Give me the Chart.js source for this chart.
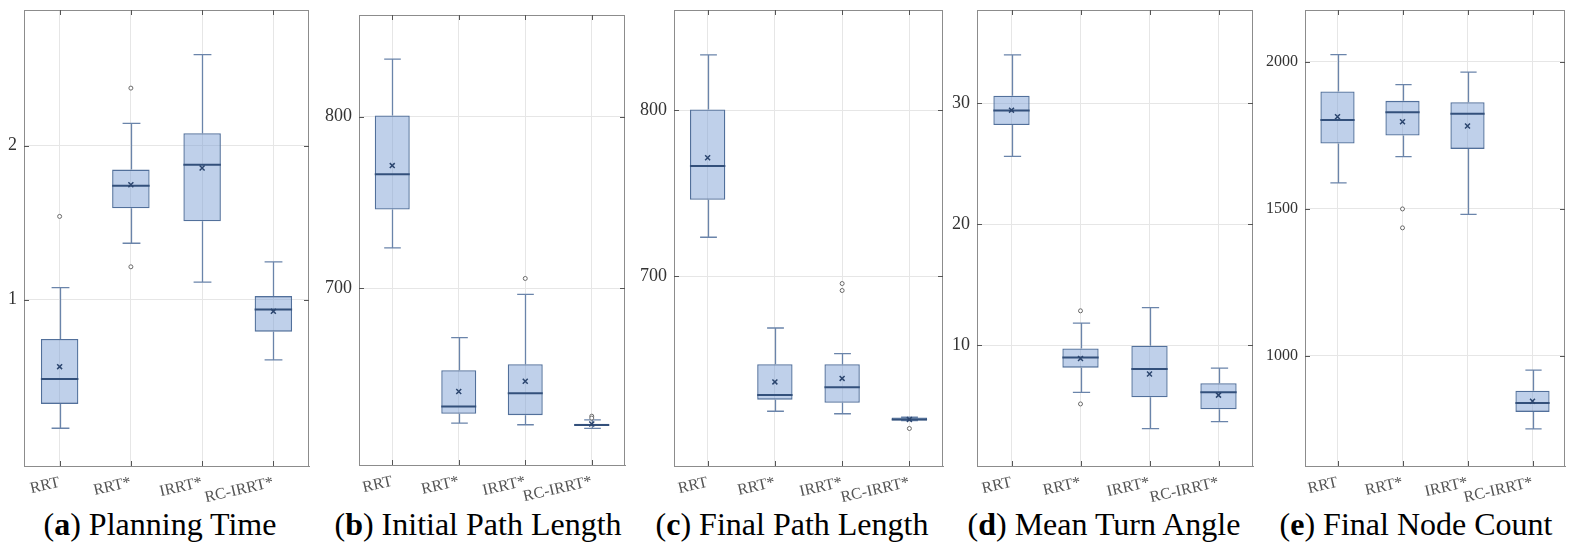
<!DOCTYPE html>
<html><head><meta charset="utf-8">
<script src="https://cdn.jsdelivr.net/npm/chart.js@4.4.0/dist/chart.umd.min.js"></script>
<style>
body{margin:0;background:#fff;width:1574px;height:553px;position:relative;overflow:hidden}
.cap{position:absolute;top:508px;width:340px;text-align:center;font-family:'Liberation Serif',serif;font-size:32px;line-height:32px;color:#000;white-space:nowrap}
</style></head><body>
<script>
const categories = ['RRT','RRT*','IRRT*','RC-IRRT*'];

// (a) Planning Time
const timeLow  = [0.165, 1.366, 1.114, 0.609];
const timeQ1   = [0.323, 1.593, 1.508, 0.792];
const timeMed  = [0.485, 1.739, 1.876, 0.936];
const timeQ3   = [0.744, 1.844, 2.080, 1.023];
const timeHigh = [1.078, 2.144, 2.590, 1.245];
const timeMean = [0.565, 1.746, 1.854, 0.924];
const timeOut  = [[1.54], [2.373, 1.213], [], []];
const timeTicks = [1, 2];

// (b) Initial Path Length
const initLow  = [723.5, 621.2, 620.2, 618.1];
const initQ1   = [745.8, 626.6, 625.8, 619.4];
const initMed  = [766.4, 630.9, 638.6, 620.0];
const initQ3   = [800.8, 652.0, 655.5, 620.8];
const initHigh = [833.6, 671.1, 696.3, 623.1];
const initMean = [771.5, 639.6, 645.6, 620.6];
const initOut  = [[], [], [705.6], [625.2, 624.1]];
const initTicks = [700, 800];

// (c) Final Path Length
const finLow  = [723.4, 618.5, 617.0, 612.8];
const finQ1   = [746.0, 625.5, 623.6, 613.0];
const finMed  = [766.4, 628.3, 633.0, 613.6];
const finQ3   = [800.4, 646.8, 646.8, 614.7];
const finHigh = [833.4, 668.7, 653.2, 614.9];
const finMean = [771.3, 636.2, 638.3, 613.6];
const finOut  = [[], [], [695.5, 691.3], [608.1]];
const finTicks = [700, 800];

// (d) Mean Turn Angle
const angLow  = [25.6, 6.09, 3.09, 3.67];
const angQ1   = [28.19, 8.13, 5.69, 4.69];
const angMed  = [29.39, 8.98, 8.02, 6.09];
const angQ3   = [30.61, 9.71, 9.94, 6.85];
const angHigh = [33.99, 11.81, 13.09, 8.10];
const angMean = [29.42, 8.89, 7.61, 5.86];
const angOut  = [[], [12.83, 5.13], [], []];
const angTicks = [10, 20, 30];

// (e) Final Node Count
const nodeLow  = [1588, 1677, 1481, 751];
const nodeQ1   = [1721.5, 1749, 1703.5, 809];
const nodeMed  = [1802, 1828, 1823.5, 839];
const nodeQ3   = [1899, 1867, 1862, 881];
const nodeHigh = [2024, 1922, 1965, 951];
const nodeMean = [1813, 1796, 1781.5, 845];
const nodeOut  = [[], [1499.4, 1435], [], []];
const nodeTicks = [1000, 1500, 2000];

const FILL = 'rgba(120,155,210,0.47)';
const EDGE = '#52709b';
const WHISK = '#6a84aa';
const MED = '#33507b';
const MEAN = '#2c466f';
const GRID = '#e6e6e6';
const FRAME = '#8c8c8c';
const TICKC = '#555';
const SERIF = "'Liberation Serif', serif";

const panels = [
  {low:timeLow, q1:timeQ1, med:timeMed, q3:timeQ3, high:timeHigh, mean:timeMean, out:timeOut, ticks:timeTicks, min:-0.08, max:2.88, frame:[24,309,10,466], ysize:18},
  {low:initLow, q1:initQ1, med:initMed, q3:initQ3, high:initHigh, mean:initMean, out:initOut, ticks:initTicks, min:596.7, max:859.4, frame:[359,625,15,465], ysize:18},
  {low:finLow, q1:finQ1, med:finMed, q3:finQ3, high:finHigh, mean:finMean, out:finOut, ticks:finTicks, min:585.5, max:860.4, frame:[674,943,10,466], ysize:18},
  {low:angLow, q1:angQ1, med:angMed, q3:angQ3, high:angHigh, mean:angMean, out:angOut, ticks:angTicks, min:0, max:37.7, frame:[977,1253,10,466], ysize:18},
  {low:nodeLow, q1:nodeQ1, med:nodeMed, q3:nodeQ3, high:nodeHigh, mean:nodeMean, out:nodeOut, ticks:nodeTicks, min:625, max:2176, frame:[1305,1565,10,466], ysize:16}
];

const BOXW = 0.526, CAPW = 0.25;

function makePlugin(p){
  return {
    id:'boxextras',
    beforeDatasetsDraw(chart){
      const ctx = chart.ctx, x = chart.scales.x, y = chart.scales.y;
      const cw = x.getPixelForValue(1) - x.getPixelForValue(0);
      ctx.save();
      ctx.strokeStyle = WHISK; ctx.lineWidth = 1.3;
      categories.forEach((c,i)=>{
        const cx = Math.round(x.getPixelForValue(i)) + 0.5;
        const yl = y.getPixelForValue(p.low[i]), y1 = y.getPixelForValue(p.q1[i]);
        const y3 = y.getPixelForValue(p.q3[i]), yh = y.getPixelForValue(p.high[i]);
        ctx.beginPath();
        ctx.moveTo(cx, yl); ctx.lineTo(cx, y1);
        ctx.moveTo(cx, y3); ctx.lineTo(cx, yh);
        ctx.moveTo(cx - cw*CAPW/2, yl); ctx.lineTo(cx + cw*CAPW/2, yl);
        ctx.moveTo(cx - cw*CAPW/2, yh); ctx.lineTo(cx + cw*CAPW/2, yh);
        ctx.stroke();
      });
      ctx.restore();
    },
    afterDatasetDraw(chart, args){
      if(args.index !== 0) return;
      const ctx = chart.ctx, x = chart.scales.x, y = chart.scales.y;
      const cw = x.getPixelForValue(1) - x.getPixelForValue(0);
      ctx.save();
      ctx.strokeStyle = MED; ctx.lineWidth = 2;
      categories.forEach((c,i)=>{
        const cx = x.getPixelForValue(i);
        const ym = y.getPixelForValue(p.med[i]);
        ctx.beginPath();
        ctx.moveTo(cx - cw*BOXW/2, ym); ctx.lineTo(cx + cw*BOXW/2, ym);
        ctx.stroke();
      });
      ctx.restore();
    },
    afterDraw(chart){
      const ctx = chart.ctx, a = chart.chartArea, x = chart.scales.x, y = chart.scales.y;
      ctx.save();
      ctx.strokeStyle = FRAME; ctx.lineWidth = 1;
      ctx.beginPath();
      ctx.moveTo(a.left, Math.round(a.top)+0.5); ctx.lineTo(a.right, Math.round(a.top)+0.5);
      ctx.moveTo(Math.round(a.right)-0.5, a.top); ctx.lineTo(Math.round(a.right)-0.5, a.bottom);
      ctx.stroke();
      ctx.strokeStyle = TICKC;
      ctx.beginPath();
      p.ticks.forEach(v=>{
        const yy = Math.round(y.getPixelForValue(v)) + 0.5;
        ctx.moveTo(a.left, yy); ctx.lineTo(a.left + 5, yy);
        ctx.moveTo(a.right - 5, yy); ctx.lineTo(a.right, yy);
      });
      categories.forEach((c,i)=>{
        const xx = Math.round(x.getPixelForValue(i)) + 0.5;
        ctx.moveTo(xx, a.bottom); ctx.lineTo(xx, a.bottom - 5);
        ctx.moveTo(xx, a.top); ctx.lineTo(xx, a.top + 5);
      });
      ctx.stroke();
      ctx.restore();
    }
  };
}

function makeChart(p){
  const YW = 52, RP = 6, H = 505;
  const w = p.frame[1] - p.frame[0];
  const div = document.createElement('div');
  div.style.cssText = `position:absolute;left:${p.frame[0]-YW}px;top:0;width:${YW+w+RP}px;height:${H}px`;
  const cv = document.createElement('canvas');
  div.appendChild(cv);
  document.body.appendChild(div);
  const outPts = [];
  p.out.forEach((arr,i)=>arr.forEach(v=>outPts.push({x:categories[i], y:v})));
  new Chart(cv, {
    type:'bar',
    data:{
      labels: categories,
      datasets:[
        {type:'bar', data: categories.map((c,i)=>[p.q1[i], p.q3[i]]), backgroundColor: FILL, borderColor: EDGE, borderWidth: 1.3, borderSkipped: false, barPercentage: BOXW, categoryPercentage: 1, order: 3},
        {type:'line', data: outPts, showLine:false, pointStyle:'circle', pointRadius:2, pointBorderColor:'#6a6a6a', pointBackgroundColor:'#fff', pointBorderWidth:1, order:2},
        {type:'line', data: p.mean, showLine:false, pointStyle:'crossRot', pointRadius:3.5, pointBorderColor: MEAN, pointBackgroundColor: MEAN, pointBorderWidth:1.5, order:1}
      ]
    },
    options:{
      responsive:true, maintainAspectRatio:false, animation:false,
      layout:{padding:{top:p.frame[2], right:RP, left:0, bottom:0}},
      plugins:{legend:{display:false}, tooltip:{enabled:false}, title:{display:false}},
      scales:{
        x:{
          type:'category', offset:true,
          grid:{offset:false, color:GRID, drawTicks:false, lineWidth:1},
          border:{color:FRAME, width:1},
          ticks:{minRotation:13, maxRotation:13, padding:7, autoSkip:false, font:{family:SERIF, size:16}, color:'#555'},
          afterFit(s){ s.height = H - p.frame[3]; s.paddingLeft = 0; s.paddingRight = 0; }
        },
        y:{
          min:p.min, max:p.max,
          grid:{color:GRID, drawTicks:false, lineWidth:1},
          border:{color:FRAME, width:1},
          ticks:{padding:7, font:{family:SERIF, size:p.ysize}, color:'#333', callback:(v)=>String(v)},
          afterBuildTicks(s){ s.ticks = p.ticks.map(v=>({value:v})); },
          afterFit(s){ s.width = YW; s.paddingTop = 0; s.paddingBottom = 0; }
        }
      }
    },
    plugins:[makePlugin(p)]
  });
}
panels.forEach(makeChart);
</script>
<div class="cap" style="left:-10px">(<b>a</b>) Planning Time</div>
<div class="cap" style="left:308px">(<b>b</b>) Initial Path Length</div>
<div class="cap" style="left:622px">(<b>c</b>) Final Path Length</div>
<div class="cap" style="left:934px">(<b>d</b>) Mean Turn Angle</div>
<div class="cap" style="left:1246px">(<b>e</b>) Final Node Count</div>
</body></html>
